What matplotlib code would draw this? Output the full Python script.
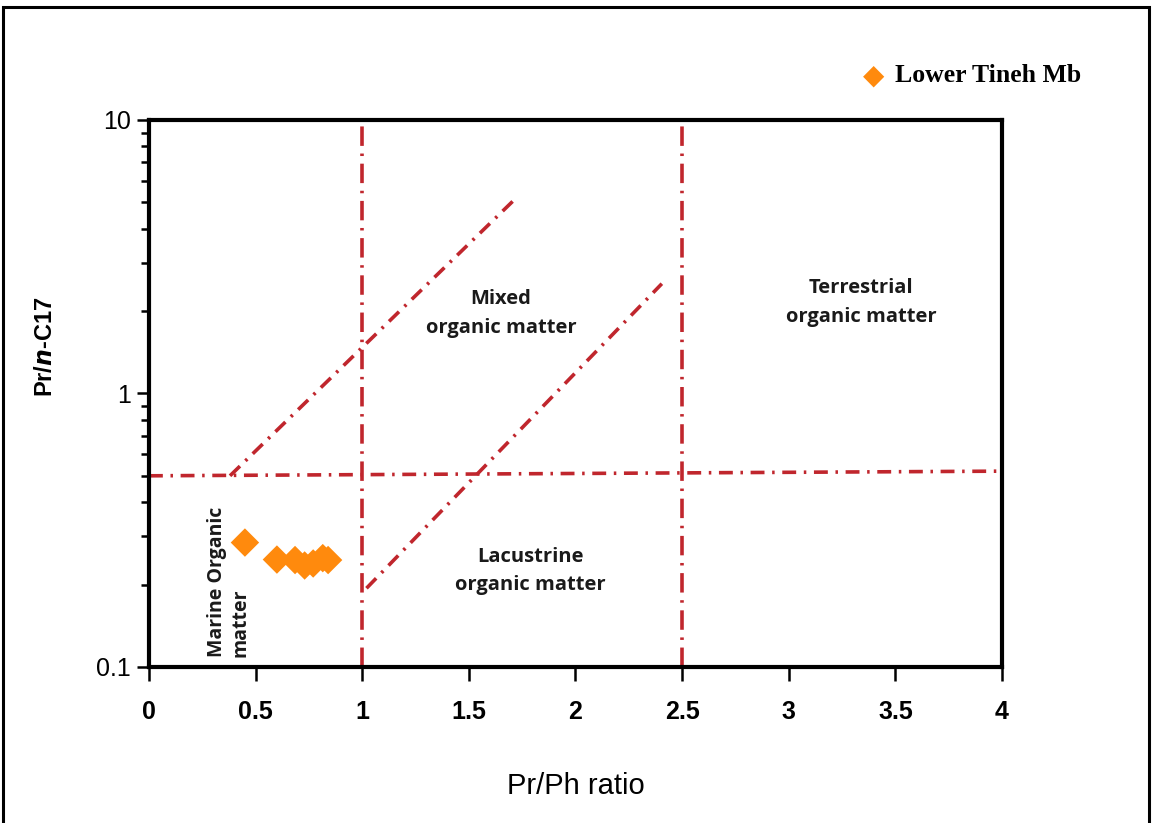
import matplotlib
matplotlib.use("Agg")
import matplotlib.pyplot as plt
from matplotlib.ticker import LogLocator, NullFormatter, FixedLocator
from matplotlib.patches import Rectangle
import numpy as np

plt.rcParams["lines.scale_dashes"] = False

# -----------------------------
# Данные
# -----------------------------
pr_ph = [0.45, 0.60, 0.685, 0.73, 0.77, 0.815, 0.84]
pr_c17 = [0.285, 0.247, 0.246, 0.235, 0.239, 0.25, 0.246]

# линии-разделители (x, y)
vline_x = [1.0, 2.5]
hline_x = [0.0, 4.0]
hline_y = [0.5, 0.52]
diag1_x = [0.38, 1.71]
diag1_y = [0.5, 5.08]
diag2_x = [1.02, 2.405]
diag2_y = [0.194, 2.52]

xticks = [0, 0.5, 1, 1.5, 2, 2.5, 3, 3.5, 4]
xtick_labels = ["0", "0.5", "1", "1.5", "2", "2.5", "3", "3.5", "4"]
yticks = [0.1, 1, 10]
ytick_labels = ["0.1", "1", "10"]

red = "#c0262d"
orange = "#ff8a0d"
narrow = ["Liberation Sans Narrow", "Liberation Sans", "DejaVu Sans"]

fig = plt.figure(figsize=(11.52, 8.23), dpi=100)
fig.patches.append(Rectangle((0.003, -0.01), 0.994, 1.002, transform=fig.transFigure,
                             fill=False, edgecolor="black", linewidth=2.2))
ax = fig.add_axes([0.1293, 0.1896, 0.7405, 0.6646])

ax.set_yscale("log")
ax.set_xlim(0, 4)
ax.set_ylim(0.1, 10)

dashdot = (0, (10, 5.5, 1.8, 5.5))
vdash = (0, (14, 5.5, 1.8, 5.5))
lw = 2.6
for xv in vline_x:
    ax.plot([xv, xv], [0.1, 10], color=red, lw=lw, linestyle=vdash)
ax.plot(hline_x, hline_y, color=red, lw=lw, linestyle=dashdot)
ax.plot(diag1_x, diag1_y, color=red, lw=lw, linestyle=dashdot)
ax.plot(diag2_x, diag2_y, color=red, lw=lw, linestyle=dashdot)

ax.scatter(pr_ph, pr_c17, marker="D", s=210, color=orange, edgecolors="none", zorder=5)

# Подписи областей
txt = dict(fontweight="bold", ha="center", va="center",
           family=["Open Sans", "DejaVu Sans"], color="#1a1a1a")
ax.text(1.65, 1.96, "Mixed\norganic matter", fontsize=14.5, linespacing=1.55, **txt)
ax.text(3.34, 2.15, "Terrestrial\norganic matter", fontsize=14.5, linespacing=1.55, **txt)
ax.text(1.79, 0.225, "Lacustrine\norganic matter", fontsize=14.5, linespacing=1.55, **txt)
ax.text(0.375, 0.205, "Marine Organic\nmatter", fontsize=14, rotation=90,
        linespacing=1.25, multialignment="left", **txt)

# Оси
for s in ax.spines.values():
    s.set_linewidth(3)
ax.xaxis.set_major_locator(FixedLocator(xticks))
ax.set_xticklabels(xtick_labels, family=narrow, fontsize=18, fontweight="bold")
ax.yaxis.set_major_locator(FixedLocator(yticks))
ax.set_yticklabels(ytick_labels, family=["Liberation Sans", "DejaVu Sans"], fontsize=18)
ax.yaxis.set_minor_locator(LogLocator(base=10, subs=np.arange(2, 10)))
ax.yaxis.set_minor_formatter(NullFormatter())
ax.tick_params(axis="x", which="major", direction="out", length=10, width=1.8, pad=14)
ax.tick_params(axis="y", which="major", direction="out", length=9, width=1.8, pad=4)
ax.tick_params(axis="y", which="minor", direction="out", length=6, width=1.8)

ax.set_xlabel("Pr/Ph ratio", family=narrow, fontsize=21, labelpad=34)
ax.set_ylabel(r"Pr/$\bfit{n}$-C17", family=["Liberation Sans", "DejaVu Sans"],
              fontsize=17, fontweight="bold")
ax.yaxis.set_label_coords(-0.108, 0.585)

# Легенда
fig.text(0.758, 0.908, "\u25c6", color=orange, fontsize=20, ha="center", va="center")
fig.text(0.777, 0.908, "Lower Tineh Mb", family=["Liberation Serif", "DejaVu Serif"],
         fontsize=18.5, fontweight="bold", ha="left", va="center")

fig.savefig("out.png", dpi=100)
